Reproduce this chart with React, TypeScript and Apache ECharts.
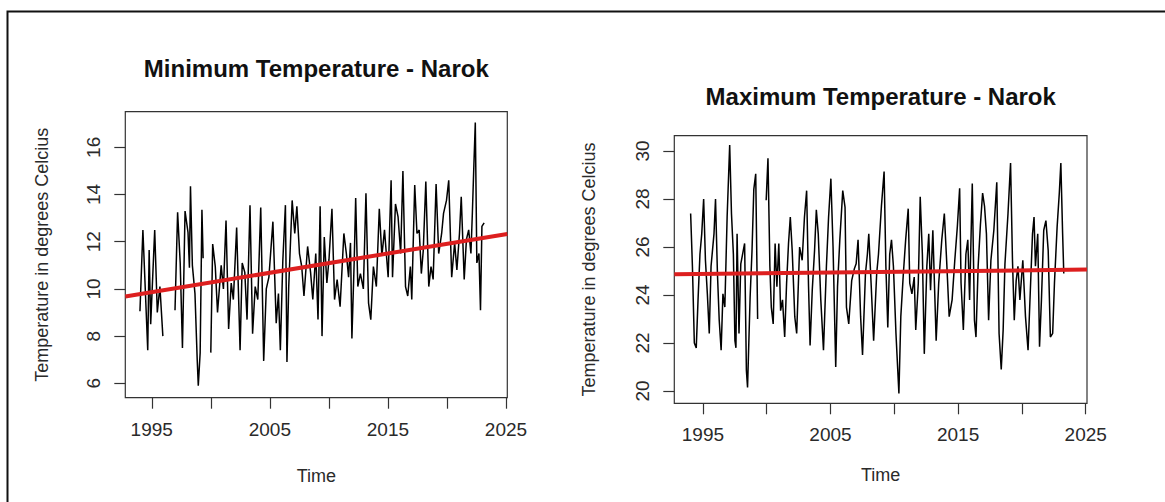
import React, { useEffect, useRef } from "react";
import * as echarts from "echarts";

// ---- Minimum temperature, Narok (time in decimal years, °C) ----
const minTime = [
  1994.0, 1994.25, 1994.66, 1994.78, 1994.91, 1995.25, 1995.47, 1995.69, 1995.94, 1996.4,
  1996.97, 1997.19, 1997.41, 1997.6, 1997.82, 1998.07, 1998.19, 1998.28, 1998.44, 1998.66,
  1998.85, 1998.94, 1999.1, 1999.25, 1999.35, 1999.6, 2000.0, 2000.16, 2000.38, 2000.57,
  2000.88, 2001.07, 2001.29, 2001.51, 2001.73, 2001.91, 2002.19, 2002.48, 2002.66, 2002.88,
  2003.07, 2003.32, 2003.54, 2003.76, 2003.98, 2004.23, 2004.48, 2004.7, 2004.92, 2005.26,
  2005.54, 2005.73, 2005.89, 2006.1, 2006.32, 2006.45, 2006.6, 2006.89, 2007.11, 2007.29,
  2007.51, 2007.7, 2007.89, 2008.2, 2008.45, 2008.64, 2008.89, 2009.08, 2009.26, 2009.42,
  2009.61, 2009.83, 2010.01, 2010.26, 2010.48, 2010.7, 2010.95, 2011.27, 2011.48, 2011.67,
  2011.83, 2011.95, 2012.14, 2012.27, 2012.45, 2012.67, 2012.92, 2013.14, 2013.36, 2013.55,
  2013.77, 2014.02, 2014.27, 2014.49, 2014.71, 2015.02, 2015.27, 2015.39, 2015.64, 2015.86,
  2016.08, 2016.27, 2016.49, 2016.68, 2016.9, 2017.02, 2017.27, 2017.46, 2017.65, 2017.83,
  2017.99, 2018.21, 2018.46, 2018.65, 2018.83, 2019.08, 2019.3, 2019.55, 2019.71, 2019.96,
  2020.15, 2020.4, 2020.65, 2020.84, 2021.06, 2021.21, 2021.46, 2021.65, 2021.84, 2022.03,
  2022.15, 2022.28, 2022.4, 2022.53, 2022.71, 2022.84, 2022.96, 2023.15,
];
const minTemp: (number | null)[] = [
  9.05, 12.5, 7.4, 11.65, 8.5, 12.5, 9.0, 10.1, 8.0, null,
  9.1, 13.25, 11.1, 7.5, 13.3, 12.4, 10.9, 14.35, 11.0, 9.8,
  7.0, 5.9, 7.3, 13.35, 11.3, null, 7.3, 11.9, 10.95, 9.0,
  11.0, 10.0, 12.9, 8.3, 10.25, 9.55, 12.6, 7.4, 11.1, 10.7,
  8.7, 13.55, 8.1, 10.1, 9.55, 13.45, 6.95, 10.0, 10.5, 12.85,
  8.55, 9.8, 7.4, 11.2, 13.55, 6.9, 10.1, 13.75, 12.35, 13.5,
  11.5, 10.95, 9.7, 11.8, 10.7, 9.55, 11.5, 8.7, 13.5, 8.0,
  12.2, 10.25, 11.25, 13.4, 9.55, 10.4, 9.25, 12.35, 11.5, 10.5,
  11.95, 7.9, 11.1, 13.85, 10.1, 10.65, 10.0, 14.05, 9.4, 8.7,
  10.95, 10.1, 13.4, 11.4, 12.5, 10.5, 14.6, 10.5, 13.6, 13.05,
  11.5, 15.0, 10.1, 9.7, 10.95, 9.55, 14.4, 12.35, 12.5, 10.65,
  11.6, 14.55, 10.1, 10.95, 10.4, 14.45, 11.5, 12.35, 13.2, 13.75,
  14.6, 10.5, 11.95, 10.8, 12.35, 13.9, 10.4, 12.1, 12.5, 11.5,
  13.2, 15.25, 17.05, 11.1, 11.5, 9.1, 12.65, 12.8,
];
const minTrendTime = [1992.76, 2025.11];
const minTrendTemp = [9.68, 12.33];

// ---- Maximum temperature, Narok ----
const maxTime = [
  1994.04, 1994.18, 1994.33, 1994.48, 1994.62, 1994.77, 1994.91, 1995.06, 1995.2, 1995.35,
  1995.5, 1995.64, 1995.87, 1995.99, 1996.14, 1996.28, 1996.43, 1996.57, 1996.72, 1996.9,
  1997.1, 1997.24, 1997.39, 1997.51, 1997.59, 1997.68, 1997.83, 1997.97, 1998.27, 1998.41,
  1998.5, 1998.7, 1998.85, 1998.99, 1999.14, 1999.29, 1999.6, 1999.96, 2000.1, 2000.25,
  2000.36, 2000.51, 2000.66, 2000.8, 2000.95, 2001.09, 2001.24, 2001.41, 2001.56, 2001.71,
  2001.85, 2002.0, 2002.2, 2002.35, 2002.58, 2002.78, 2002.96, 2003.13, 2003.28, 2003.4,
  2003.57, 2003.75, 2003.89, 2004.04, 2004.24, 2004.45, 2004.68, 2004.85, 2005.03, 2005.2,
  2005.41, 2005.55, 2005.73, 2005.96, 2006.14, 2006.25, 2006.43, 2006.66, 2006.87, 2007.01,
  2007.16, 2007.36, 2007.51, 2007.74, 2007.89, 2008.0, 2008.18, 2008.38, 2008.62, 2008.76,
  2008.99, 2009.2, 2009.34, 2009.49, 2009.64, 2009.78, 2009.93, 2010.13, 2010.36, 2010.51,
  2010.71, 2010.89, 2011.09, 2011.21, 2011.38, 2011.56, 2011.68, 2011.88, 2012.03, 2012.2,
  2012.35, 2012.55, 2012.7, 2012.84, 2013.02, 2013.28, 2013.48, 2013.72, 2013.92, 2014.1,
  2014.3, 2014.53, 2014.74, 2014.94, 2015.12, 2015.23, 2015.41, 2015.61, 2015.76, 2015.9,
  2016.11, 2016.28, 2016.4, 2016.57, 2016.75, 2016.92, 2017.07, 2017.22, 2017.39, 2017.57,
  2017.8, 2018.03, 2018.21, 2018.38, 2018.53, 2018.67, 2018.91, 2019.11, 2019.26, 2019.4,
  2019.55, 2019.69, 2019.84, 2020.07, 2020.28, 2020.48, 2020.66, 2020.83, 2020.95, 2021.06,
  2021.24, 2021.38, 2021.53, 2021.71, 2021.88, 2022.06, 2022.23, 2022.41, 2022.55, 2022.76,
  2022.93, 2023.05, 2023.19, 2023.28,
];
const maxTemp: (number | null)[] = [
  27.4, 25.2, 22.0, 21.8, 23.8, 25.7, 26.55, 28.0, 25.45, 24.05,
  22.4, 25.2, 26.55, 28.0, 24.9, 22.95, 21.7, 24.05, 23.5, 27.25,
  30.25, 27.4, 25.7, 22.1, 21.8, 26.55, 22.4, 25.3, 26.15, 20.85,
  20.15, 23.9, 25.85, 28.4, 29.05, 23.0, null, 27.95, 29.7, 25.2,
  23.5, 22.8, 26.15, 24.35, 26.15, 23.35, 23.8, 22.25, 24.5, 26.15,
  27.25, 25.85, 23.1, 22.4, 26.0, 25.45, 27.25, 28.35, 24.35, 21.9,
  24.2, 25.85, 27.55, 26.55, 23.8, 21.7, 25.2, 27.25, 28.85, 26.0,
  21.0, 24.35, 26.3, 28.35, 27.65, 23.5, 22.8, 24.6, 25.1, 25.3,
  26.3, 23.1, 21.5, 24.9, 25.7, 26.55, 24.5, 22.1, 24.9, 25.7,
  27.7, 29.15, 25.2, 22.65, 25.7, 26.3, 25.2, 22.4, 19.9, 23.1,
  24.9, 26.3, 27.6, 24.5, 24.05, 24.75, 22.55, 24.5, 28.1, 25.7,
  21.55, 25.2, 26.55, 24.2, 26.7, 22.1, 24.5, 26.3, 27.4, 25.45,
  23.1, 23.8, 25.45, 26.85, 28.45, 24.5, 22.55, 25.7, 26.3, 23.8,
  28.65, 22.95, 22.25, 25.2, 26.95, 28.25, 27.7, 26.55, 22.95, 25.45,
  26.7, 28.7, 22.4, 20.9, 22.55, 25.3, 27.4, 29.5, 25.45, 22.95,
  24.6, 25.2, 23.8, 25.45, 23.1, 21.7, 24.2, 26.55, 27.25, 25.2,
  26.55, 21.85, 23.8, 26.7, 27.1, 25.85, 22.25, 22.4, 24.5, 26.85,
  28.25, 29.5, 26.55, 24.9,
];
const maxTrendTime = [1992.76, 2025.1];
const maxTrendTemp = [24.87, 25.06];

// ---- axis ticks ----
const yearTicks = [1995, 2000, 2005, 2010, 2015, 2020, 2025];
const yearLabels = [1995, 2005, 2015, 2025];
const minTempTicks = [6, 8, 10, 12, 14, 16];
const maxTempTicks = [20, 22, 24, 26, 28, 30];

const titles = ["Minimum Temperature - Narok", "Maximum Temperature - Narok"];
const xName = "Time";
const yName = "Temperature in degrees Celcius";

const FONT = '"Liberation Sans", Arial, Helvetica, sans-serif';
const TEXT = "#2a2a2a";
const AXIS = "#333333";

const zip = (xs: number[], ys: (number | null)[]) => xs.map((x, i) => [x, ys[i]]);

function xAxisCfg(gridIndex: number, min: number, max: number, nameGap: number) {
  return {
    type: "value",
    gridIndex,
    min,
    max,
    name: xName,
    nameLocation: "middle",
    nameGap,
    nameTextStyle: { fontFamily: FONT, fontSize: 18, color: TEXT },
    axisLine: { show: false },
    axisTick: {
      show: true,
      inside: false,
      length: 11,
      customValues: yearTicks,
      lineStyle: { color: AXIS, width: 1.2 },
    },
    axisLabel: {
      show: true,
      customValues: yearLabels,
      margin: 22,
      fontFamily: FONT,
      fontSize: 19,
      color: TEXT,
      formatter: (v: number) => String(Math.round(v)),
    },
    splitLine: { show: false },
  };
}

function yAxisCfg(gridIndex: number, min: number, max: number, ticks: number[], nameGap: number) {
  return {
    type: "value",
    gridIndex,
    min,
    max,
    name: yName,
    nameLocation: "middle",
    nameGap,
    nameTextStyle: { fontFamily: FONT, fontSize: 18, color: TEXT },
    axisLine: { show: false },
    axisTick: {
      show: true,
      inside: false,
      length: 11,
      customValues: ticks,
      lineStyle: { color: AXIS, width: 1.2 },
    },
    axisLabel: {
      show: true,
      customValues: ticks,
      rotate: 90,
      margin: 22,
      fontFamily: FONT,
      fontSize: 19,
      color: TEXT,
      formatter: (v: number) => String(Math.round(v)),
    },
    splitLine: { show: false },
  };
}

export default function App() {
  const ref = useRef<HTMLDivElement>(null);

  useEffect(() => {
    if (!ref.current) return;
    const chart = echarts.init(ref.current, undefined, { renderer: "svg" });
    const option = {
      animation: false,
      backgroundColor: "#ffffff",
      grid: [
        {
          left: 125.3,
          top: 111.7,
          width: 382,
          height: 286,
          show: true,
          borderColor: AXIS,
          borderWidth: 1.2,
          backgroundColor: "transparent",
        },
        {
          left: 674.3,
          top: 135.7,
          width: 412.7,
          height: 267.6,
          show: true,
          borderColor: AXIS,
          borderWidth: 1.2,
          backgroundColor: "transparent",
        },
      ],
      xAxis: [xAxisCfg(0, 1992.76, 2025.11, 69), xAxisCfg(1, 1992.76, 2025.1, 63)],
      yAxis: [
        yAxisCfg(0, 5.39, 17.51, minTempTicks, 74),
        yAxisCfg(1, 19.49, 30.64, maxTempTicks, 76),
      ],
      graphic: [
        {
          type: "rect",
          silent: true,
          shape: { x: 7.5, y: 11.5, width: 1300, height: 700 },
          style: { fill: "none", stroke: "#111111", lineWidth: 2 },
        },
        {
          type: "text",
          x: 316.3,
          y: 68,
          style: {
            text: titles[0],
            align: "center",
            verticalAlign: "middle",
            fontFamily: FONT,
            fontSize: 24,
            fontWeight: "bold",
            fill: "#111111",
          },
        },
        {
          type: "text",
          x: 880.7,
          y: 96,
          style: {
            text: titles[1],
            align: "center",
            verticalAlign: "middle",
            fontFamily: FONT,
            fontSize: 24,
            fontWeight: "bold",
            fill: "#111111",
          },
        },
      ],
      series: [
        {
          name: "Minimum temperature",
          type: "line",
          xAxisIndex: 0,
          yAxisIndex: 0,
          data: zip(minTime, minTemp),
          showSymbol: false,
          connectNulls: false,
          lineStyle: { color: "#000000", width: 1.5 },
          z: 2,
        },
        {
          name: "Minimum trend",
          type: "line",
          xAxisIndex: 0,
          yAxisIndex: 0,
          data: zip(minTrendTime, minTrendTemp),
          showSymbol: false,
          lineStyle: { color: "#dd1f1f", width: 4 },
          z: 3,
        },
        {
          name: "Maximum temperature",
          type: "line",
          xAxisIndex: 1,
          yAxisIndex: 1,
          data: zip(maxTime, maxTemp),
          showSymbol: false,
          connectNulls: false,
          lineStyle: { color: "#000000", width: 1.5 },
          z: 2,
        },
        {
          name: "Maximum trend",
          type: "line",
          xAxisIndex: 1,
          yAxisIndex: 1,
          data: zip(maxTrendTime, maxTrendTemp),
          showSymbol: false,
          lineStyle: { color: "#dd1f1f", width: 4 },
          z: 3,
        },
      ],
    };
    chart.setOption(option as any);
    return () => chart.dispose();
  }, []);

  return (
    <div
      ref={ref}
      style={{ position: "fixed", left: 0, top: 0, width: 1165, height: 502, background: "#fff" }}
    />
  );
}
